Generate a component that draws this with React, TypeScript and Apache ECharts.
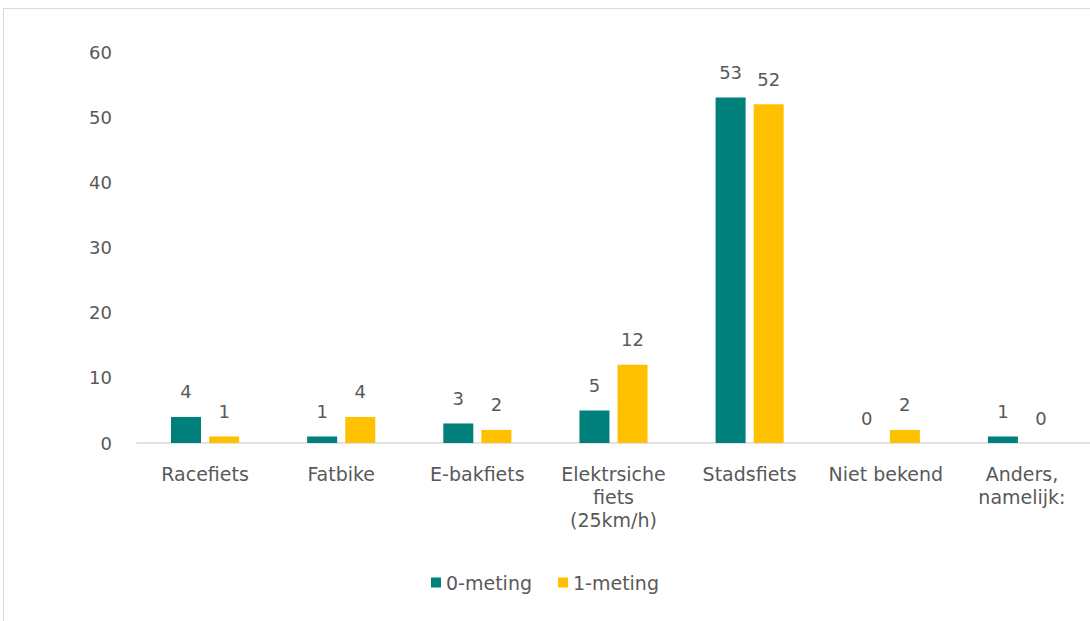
import React, { useEffect, useRef } from "react";
import * as echarts from "echarts";

const categories = [
  "Racefiets",
  "Fatbike",
  "E-bakfiets",
  "Elektrsiche\nfiets\n(25km/h)",
  "Stadsfiets",
  "Niet bekend",
  "Anders,\nnamelijk:",
];
const meting0 = [4, 1, 3, 5, 53, 0, 1];
const meting1 = [1, 4, 2, 12, 52, 2, 0];
const seriesNames = ["0-meting", "1-meting"];

const FONT = "'DejaVu Sans', sans-serif";
const GREY = "#595959";

export default function App() {
  const ref = useRef<HTMLDivElement>(null);
  useEffect(() => {
    if (!ref.current) return;
    const chart = echarts.init(ref.current, undefined, { renderer: "svg" });
    const label = {
      show: true,
      position: "top",
      distance: 16,
      color: GREY,
      fontSize: 18,
      fontFamily: FONT,
    };
    chart.setOption({
      animation: false,
      backgroundColor: "#ffffff",
      textStyle: { fontFamily: FONT },
      graphic: [
        {
          type: "rect",
          shape: { x: 3.5, y: 8.5, width: 1200, height: 800 },
          style: { fill: "none", stroke: "#d9d9d9", lineWidth: 1 },
          silent: true,
        },
      ],
      legend: {
        data: seriesNames,
        bottom: 24,
        left: "center",
        itemWidth: 10,
        itemHeight: 10,
        itemGap: 26,
        icon: "rect",
        textStyle: { color: GREY, fontSize: 19, fontFamily: FONT },
      },
      grid: { left: 137, right: -1, top: 52, height: 391, containLabel: false },
      xAxis: {
        type: "category",
        data: categories,
        axisLine: { lineStyle: { color: "#d9d9d9", width: 1.5 } },
        axisTick: { show: false },
        axisLabel: {
          color: GREY,
          fontSize: 19,
          fontFamily: FONT,
          interval: 0,
          margin: 19,
          lineHeight: 23,
        },
      },
      yAxis: {
        type: "value",
        min: 0,
        max: 60,
        interval: 10,
        axisLine: { show: false },
        axisTick: { show: false },
        splitLine: { show: false },
        axisLabel: { color: GREY, fontSize: 18, fontFamily: FONT, margin: 25 },
      },
      series: [
        {
          name: seriesNames[0],
          type: "bar",
          data: meting0,
          barWidth: 30,
          barGap: "27%",
          itemStyle: { color: "#00807a" },
          label,
        },
        {
          name: seriesNames[1],
          type: "bar",
          data: meting1,
          barWidth: 30,
          itemStyle: { color: "#ffc000" },
          label,
        },
      ],
    });
    return () => chart.dispose();
  }, []);
  return (
    <div
      ref={ref}
      style={{ position: "fixed", left: 0, top: 0, width: 1090, height: 621 }}
    />
  );
}
